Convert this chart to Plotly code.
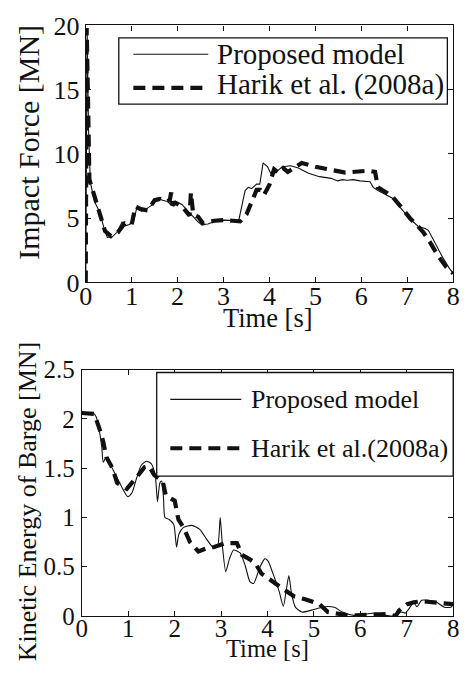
import plotly.graph_objects as go

# ---------------- data ----------------
# Top: impact force [MN]
force_t_model = [0, 0.03, 0.06, 0.1, 0.19, 0.3, 0.4, 0.47, 0.58, 0.68, 0.79, 0.86, 0.95, 1.04, 1.11,
                 1.21, 1.35, 1.46, 1.57, 1.67, 1.78, 1.85, 1.95, 2.1, 2.2, 2.31, 2.45, 2.52, 2.66, 2.84,
                 3.01, 3.33, 3.4, 3.47, 3.54, 3.61, 3.72, 3.79, 3.86, 3.96, 4.03, 4.1, 4.18, 4.28, 4.46,
                 4.63, 4.85, 5.09, 5.34, 5.48, 5.59, 5.69, 5.83, 5.97, 6.19, 6.26, 6.36, 6.54, 6.68,
                 6.89, 7.07, 7.24, 7.39, 7.46, 7.6, 7.77, 7.92, 8.0]
force_v_model = [0, 19.8, 12, 7.8, 6.3, 5.5, 4.2, 3.5, 3.55, 3.9, 4.7, 4.4, 4.5, 4.7, 5.8,
                 5.55, 5.8, 6.05, 6.55, 6.4, 6.3, 6.05, 6.3, 6.05, 5.65, 5.2, 4.7, 4.5, 4.55, 4.8,
                 4.85, 4.8, 6.05, 7.15, 7.4, 7.3, 7.65, 7.65, 9.3, 9.0, 8.45, 8.95, 8.7, 9.0, 9.08,
                 8.9, 8.5, 8.23, 8.1, 7.9, 8.0, 7.95, 8.0, 7.9, 7.84, 7.4, 7.15, 6.8, 6.55,
                 5.65, 4.9, 4.35, 4.2, 4.05, 3.05, 1.95, 1.07, 0.7]

force_t_harik = [0, 0.02, 0.05, 0.08, 0.2, 0.33, 0.42, 0.55, 0.7, 0.85, 1.0, 1.08, 1.2, 1.35, 1.5,
                 1.62, 1.75, 1.83, 1.86, 1.89, 1.95, 2.1, 2.2, 2.26, 2.29, 2.34, 2.45, 2.55, 2.8,
                 3.0, 3.2, 3.36, 3.5, 3.6, 3.72, 3.8, 3.88, 4.0, 4.1, 4.2, 4.3, 4.4, 4.55, 4.7,
                 5.0, 5.3, 5.65, 6.0, 6.15, 6.3, 6.36, 6.5, 6.68, 6.86, 7.07, 7.2, 7.35, 7.5,
                 7.67, 7.85, 8.0]
force_v_harik = [0, 19.8, 14, 8.0, 6.6, 5.1, 4.0, 3.6, 3.9, 4.6, 4.5, 5.9, 5.7, 5.6, 6.4,
                 6.5, 6.3, 6.4, 7.0, 6.0, 6.2, 5.9, 5.5, 5.2, 7.0, 5.3, 5.1, 4.6, 4.8,
                 4.85, 4.8, 4.75, 5.3, 6.2, 7.2, 7.2, 6.8, 7.6, 8.8, 8.5, 8.9, 8.6, 9.0, 9.3,
                 9.0, 8.8, 8.55, 8.65, 8.7, 8.6, 7.4, 7.1, 6.65, 5.9, 4.95, 4.5, 3.9, 3.1,
                 2.07, 1.2, 0.7]

# Bottom: kinetic energy of barge
ke_t_model = [0, 0.24, 0.31, 0.38, 0.43, 0.46, 0.52, 0.62, 0.73, 0.87, 0.99, 1.08, 1.18, 1.28, 1.39,
              1.49, 1.58, 1.63, 1.68, 1.72, 1.76, 1.79, 1.88, 1.98, 2.04, 2.09, 2.19, 2.37, 2.54,
              2.68, 2.82, 2.92, 2.98, 3.03, 3.1, 3.18, 3.27, 3.41, 3.52, 3.62, 3.7, 3.83, 3.94,
              4.01, 4.11, 4.25, 4.34, 4.4, 4.46, 4.52, 4.6, 4.74, 4.95, 5.23, 5.44, 5.61, 5.86,
              6.07, 6.35, 6.55, 6.76, 6.87, 6.97, 7.04, 7.15, 7.22, 7.32, 7.46, 7.64, 7.81, 7.95, 8.0]
ke_v_model = [2.06, 2.06, 2.02, 1.87, 1.71, 1.56, 1.61, 1.53, 1.43, 1.30, 1.21, 1.25, 1.40, 1.53, 1.57,
              1.55, 1.43, 1.16, 1.35, 1.37, 1.19, 1.0, 0.98, 0.93, 0.70, 0.83, 0.90, 0.92, 0.88,
              0.785, 0.70, 0.70, 1.0, 0.70, 0.45, 0.58, 0.67, 0.64, 0.51, 0.35, 0.33, 0.49, 0.58,
              0.56, 0.44, 0.25, 0.10, 0.25, 0.41, 0.22, 0.09, 0.04, 0.06, 0.094, 0.088, 0.04, 0.007,
              0.017, 0.03, 0.007, 0.0, 0.04, 0.03, 0.07, 0.136, 0.094, 0.16, 0.16, 0.14, 0.09, 0.09, 0.12]

ke_t_harik = [0, 0.27, 0.38, 0.46, 0.53, 0.66, 0.76, 0.97, 1.2, 1.35, 1.45, 1.56, 1.74, 1.81, 2.0,
              2.08, 2.19, 2.33, 2.51, 2.7, 2.85, 3.1, 3.34, 3.45, 3.6, 3.73, 3.87, 4.0, 4.11, 4.32,
              4.57, 4.81, 5.12, 5.3, 5.5, 5.7, 5.9, 6.35, 6.6, 6.76, 6.83, 7.01, 7.15, 7.32, 7.64, 8.0]
ke_v_harik = [2.06, 2.05, 1.90, 1.77, 1.61, 1.50, 1.35, 1.29, 1.42, 1.51, 1.52, 1.43, 1.37, 1.22, 1.17,
              0.98, 0.90, 0.75, 0.655, 0.69, 0.70, 0.74, 0.74, 0.62, 0.58, 0.54, 0.43, 0.38, 0.35, 0.28,
              0.20, 0.17, 0.12, 0.04, 0.02, 0.01, 0.007, 0.02, 0.02, 0.0, 0.055, 0.12, 0.14, 0.15, 0.14, 0.12]

series_names = ["Proposed model", "Harik et al. (2008a)", "Harik et al.(2008a)"]
x_ticks = [0, 1, 2, 3, 4, 5, 6, 7, 8]

# ---------------- figure ----------------
W, H = 466, 678
FONT = "Liberation Serif, Times New Roman, serif"
INK = "#111111"

def px(x):
    return x / W

def py(y):
    return 1 - y / H

fig = go.Figure()

solid = dict(color=INK, width=1.1)
dashed = dict(color=INK, width=4.2, dash="12px,7px")

fig.add_trace(go.Scatter(x=force_t_harik, y=force_v_harik, mode="lines", line=dashed,
                         xaxis="x", yaxis="y", showlegend=False))
fig.add_trace(go.Scatter(x=force_t_model, y=force_v_model, mode="lines", line=solid,
                         xaxis="x", yaxis="y", showlegend=False))
fig.add_trace(go.Scatter(x=ke_t_harik, y=ke_v_harik, mode="lines", line=dashed,
                         xaxis="x2", yaxis="y2", showlegend=False))
fig.add_trace(go.Scatter(x=ke_t_model, y=ke_v_model, mode="lines",
                         line=dict(color=INK, width=1.1, shape="spline", smoothing=0.6),
                         xaxis="x2", yaxis="y2", showlegend=False))

axis_common = dict(showline=True, linecolor=INK, linewidth=1.3, mirror="ticks",
                   ticks="inside", ticklen=5, tickwidth=1, tickcolor=INK,
                   showgrid=False, zeroline=False)

fig.update_layout(
    width=W, height=H,
    margin=dict(l=0, r=0, t=0, b=0),
    paper_bgcolor="white", plot_bgcolor="white",
    showlegend=False,
    xaxis=dict(domain=[px(81), px(459)], range=[0, 8], anchor="y", tickvals=x_ticks,
               tickfont=dict(family=FONT, size=26, color=INK), ticklabelstandoff=-10, **axis_common),
    yaxis=dict(domain=[py(281), py(13)], range=[0, 20], anchor="x", dtick=5,
               tickfont=dict(family=FONT, size=26, color=INK), ticklabelstandoff=0, **axis_common),
    xaxis2=dict(domain=[px(77), px(459)], range=[0, 8], anchor="y2", tickvals=x_ticks,
                tickfont=dict(family=FONT, size=25, color=INK), ticklabelstandoff=-10, **axis_common),
    yaxis2=dict(domain=[py(629), py(372)], range=[0, 2.5], anchor="x2", dtick=0.5,
                tickfont=dict(family=FONT, size=25, color=INK), ticklabelstandoff=1, **axis_common),
)

shapes = []
annotations = []

def text(x, y, s, size, xanchor="left", angle=0):
    annotations.append(dict(xref="paper", yref="paper", x=px(x), y=py(y), text=s,
                            showarrow=False, xanchor=xanchor, yanchor="middle",
                            textangle=angle, font=dict(family=FONT, size=size, color=INK)))

# axis titles
text(268, 318.5, "Time [s]", 26.5, xanchor="center")
text(267.5, 662.5, "Time [s]", 24.5, xanchor="center")
text(22, 135, "Impact Force [MN]", 30, xanchor="center", angle=-90)
text(22, 509, "Kinetic Energy of Barge [MN]", 26, xanchor="center", angle=-90)

# legend 1 (top)
shapes.append(dict(type="rect", xref="paper", yref="paper", x0=px(115), x1=px(453), y0=py(95), y1=py(26),
                   line=dict(color=INK, width=1.3), fillcolor="white", layer="above"))
shapes.append(dict(type="line", xref="paper", yref="paper", x0=px(130), x1=px(207), y0=py(43), y1=py(43),
                   line=dict(color=INK, width=1.1), layer="above"))
shapes.append(dict(type="line", xref="paper", yref="paper", x0=px(130), x1=px(207), y0=py(78), y1=py(78),
                   line=dict(color=INK, width=4.2, dash="12px,7px"), layer="above"))
text(213.5, 42.5, series_names[0], 29)
text(213.5, 74.5, series_names[1], 29)

# legend 2 (bottom)
shapes.append(dict(type="rect", xref="paper", yref="paper", x0=px(154), x1=px(459), y0=py(483), y1=py(375),
                   line=dict(color=INK, width=1.3), fillcolor="white", layer="above"))
shapes.append(dict(type="line", xref="paper", yref="paper", x0=px(168), x1=px(241), y0=py(403), y1=py(403),
                   line=dict(color=INK, width=1.1), layer="above"))
shapes.append(dict(type="line", xref="paper", yref="paper", x0=px(168), x1=px(242), y0=py(454), y1=py(454),
                   line=dict(color=INK, width=4.2, dash="12px,7px"), layer="above"))
text(249, 403, series_names[0], 26)
text(249, 454, series_names[2], 26)

fig.update_layout(shapes=shapes, annotations=annotations)

fig.write_html("out.html")
